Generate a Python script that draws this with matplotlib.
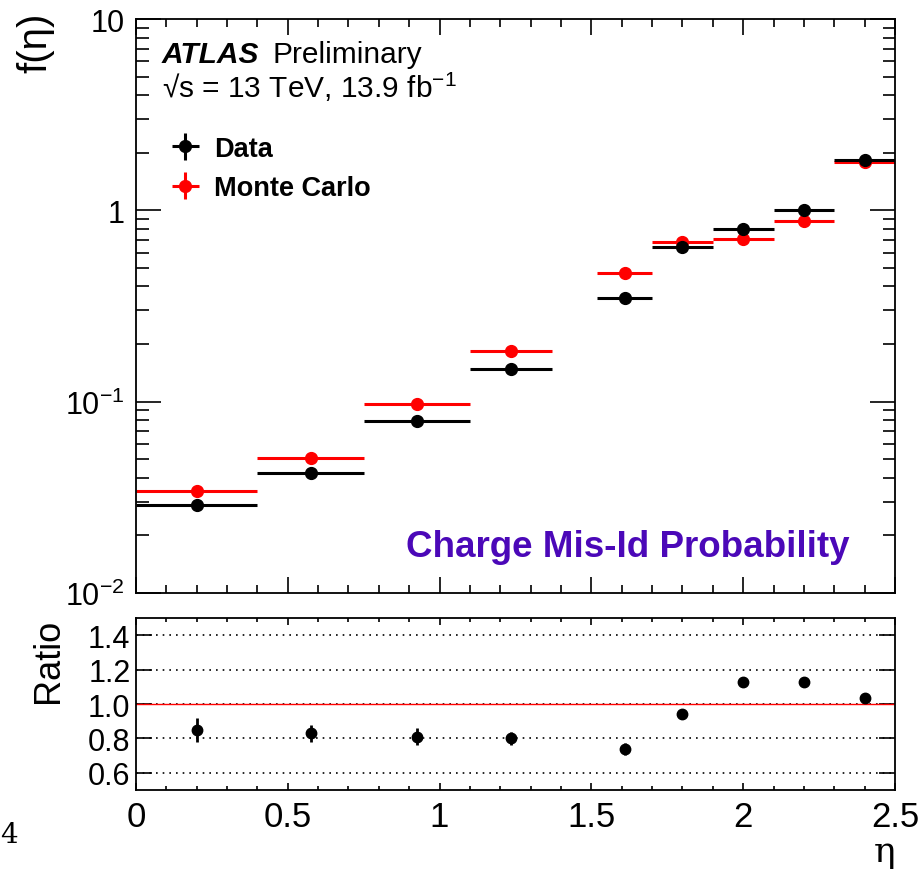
import numpy as np
import matplotlib
matplotlib.use('Agg')
import matplotlib.pyplot as plt
from matplotlib.ticker import FixedLocator, FuncFormatter, NullFormatter, MultipleLocator, FormatStrFormatter

plt.rcParams['font.family'] = ['Liberation Sans', 'DejaVu Sans']
plt.rcParams['mathtext.fontset'] = 'custom'
plt.rcParams['mathtext.rm'] = 'Liberation Sans'
plt.rcParams['mathtext.it'] = 'Liberation Sans:italic'
plt.rcParams['mathtext.bf'] = 'Liberation Sans:bold'

# eta bins (crack region 1.37-1.52 excluded)
bin_lo = np.array([0.0, 0.4, 0.75, 1.1, 1.52, 1.7, 1.9, 2.1, 2.3])
bin_hi = np.array([0.4, 0.75, 1.1, 1.37, 1.7, 1.9, 2.1, 2.3, 2.5])

data_f = [0.0289, 0.0422, 0.0793, 0.148, 0.347, 0.641, 0.795, 1.00, 1.84]
data_err = [0.0017, 0.0018, 0.003, 0.005, 0.011, 0.008, 0.010, 0.012, 0.020]
mc_f = [0.0340, 0.0507, 0.0975, 0.185, 0.470, 0.685, 0.705, 0.883, 1.78]
mc_err = [0.0008, 0.0008, 0.0015, 0.0025, 0.006, 0.004, 0.005, 0.006, 0.010]

ratio = [0.85, 0.83, 0.81, 0.80, 0.74, 0.94, 1.13, 1.13, 1.035]
ratio_err = [0.07, 0.05, 0.05, 0.04, 0.035, 0.015, 0.015, 0.015, 0.015]

centers = (bin_lo + bin_hi) / 2
half_w = (bin_hi - bin_lo) / 2

fig = plt.figure(figsize=(9.23, 8.7), dpi=100)
ax1 = fig.add_axes([0.1473, 0.3172, 0.8223, 0.6598])
ax2 = fig.add_axes([0.1473, 0.0908, 0.8223, 0.1977])

mc = ax1.errorbar(centers, mc_f, xerr=half_w, yerr=mc_err, fmt='o', color='red',
                  ms=8.5, lw=2.2, capsize=0, label='Monte Carlo')
dat = ax1.errorbar(centers, data_f, xerr=half_w, yerr=data_err, fmt='o', color='black',
                   ms=8.5, lw=2.2, capsize=0, label='Data')

ax1.set_yscale('log')
ax1.set_ylim(0.01, 10)
ax1.set_xlim(0, 2.5)

def log_fmt(v, pos):
    if v >= 10:
        return '10'
    if v >= 1:
        return '1'
    return r'$\mathdefault{10^{%d}}$' % int(round(np.log10(v)))

ax1.yaxis.set_major_locator(FixedLocator([0.01, 0.1, 1, 10]))
ax1.yaxis.set_major_formatter(FuncFormatter(log_fmt))
ax1.yaxis.set_minor_formatter(NullFormatter())
ax1.xaxis.set_major_locator(MultipleLocator(0.5))
ax1.xaxis.set_minor_locator(MultipleLocator(0.1))
ax1.tick_params(which='both', direction='in', top=True, right=True, width=1.2)
ax1.tick_params(axis='x', which='major', length=11.5, labelbottom=False)
ax1.tick_params(axis='x', which='minor', length=5.8)
ax1.tick_params(axis='y', which='major', length=18, labelsize=22, pad=8)
ax1.tick_params(axis='y', which='minor', length=9)

ax1.set_ylabel('f(η)', fontsize=29, loc='top')
ax1.yaxis.set_label_coords(-0.107, 1.012)

ax1.text(0.0343, 0.925, 'ATLAS', transform=ax1.transAxes, fontsize=21.5,
         fontweight='bold', fontstyle='italic', va='baseline')
ax1.text(0.1805, 0.925, 'Preliminary', transform=ax1.transAxes, fontsize=21.5, va='baseline')
ax1.text(0.0343, 0.864, '√s = 13 TeV, 13.9 fb$^{-1}$', transform=ax1.transAxes,
         fontsize=21.5, va='baseline')
ax1.text(0.9407, 0.0645, 'Charge Mis-Id Probability', transform=ax1.transAxes,
         fontsize=26.5, fontweight='bold', color='#4b08b8', ha='right', va='baseline')

ax1.legend([dat, mc], ['Data', 'Monte Carlo'], loc='upper left',
           bbox_to_anchor=(0.042, 0.797), frameon=False, borderpad=0, borderaxespad=0,
           handlelength=1.3, handletextpad=0.4, labelspacing=0.5,
           prop={'weight': 'bold', 'size': 19.5})

# ratio panel
ax2.errorbar(centers, ratio, yerr=ratio_err, fmt='o', color='black', ms=7.5, lw=2, capsize=0)
ax2.axhline(1.0, color='red', lw=1)
ax2.set_xlim(0, 2.5)
ax2.set_ylim(0.5, 1.5)
ax2.yaxis.set_major_locator(FixedLocator([0.6, 0.8, 1.0, 1.2, 1.4]))
ax2.yaxis.set_major_formatter(FormatStrFormatter('%.1f'))
ax2.yaxis.grid(True, linestyle=(0, (1, 3)), color='black', lw=1.2)
ax2.xaxis.set_major_locator(MultipleLocator(0.5))
ax2.xaxis.set_minor_locator(MultipleLocator(0.1))
ax2.xaxis.set_major_formatter(FuncFormatter(lambda v, p: '%g' % v))
ax2.tick_params(which='both', direction='in', top=True, right=True, width=1.2)
ax2.tick_params(axis='x', which='major', length=5, labelsize=25, pad=7)
ax2.tick_params(axis='x', which='minor', length=3)
ax2.tick_params(axis='y', which='major', length=11.5, labelsize=22, pad=4)

ax2.set_ylabel('Ratio', fontsize=26, loc='top')
ax2.yaxis.set_label_coords(-0.092, 1.0)
ax2.set_xlabel('η', fontsize=26, loc='right', family='DejaVu Serif')
ax2.xaxis.set_label_coords(1.0, -0.255)

for ax in (ax1, ax2):
    for s in ax.spines.values():
        s.set_linewidth(1.3)

fig.text(0.0, 1 - 843 / 870, '4', family='DejaVu Serif', fontsize=20, va='baseline', ha='left')

fig.savefig('out.png', dpi=100)
